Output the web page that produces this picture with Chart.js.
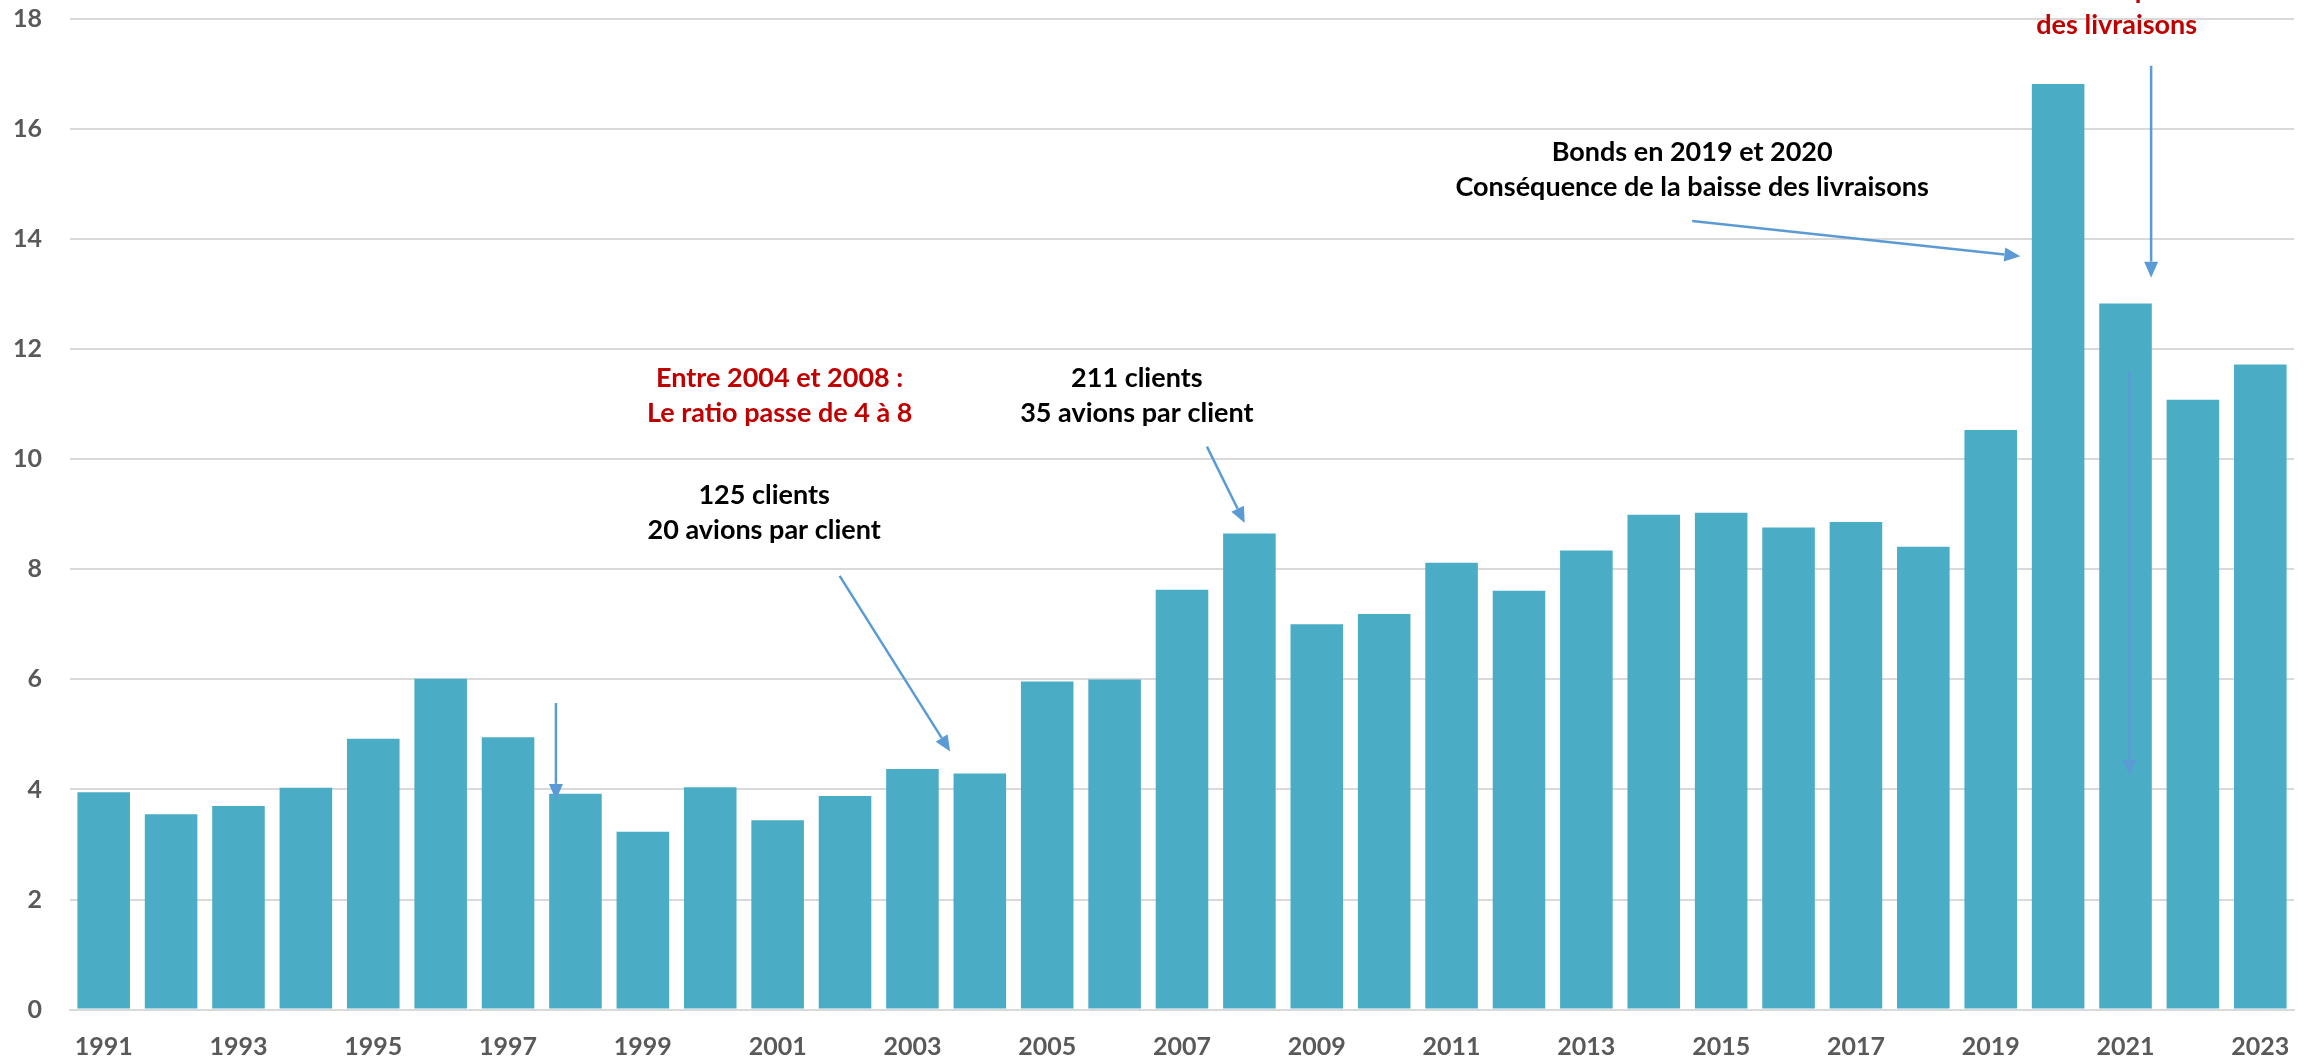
<!DOCTYPE html>
<html>
<head>
<meta charset="utf-8">
<script src="https://cdn.jsdelivr.net/npm/chart.js@4/dist/chart.umd.min.js"></script>
<style>
  html, body { margin: 0; padding: 0; background: #ffffff; }
  #wrap { width: 2318px; height: 1062px; }
</style>
</head>
<body>
<div id="wrap"><canvas id="c" width="2318" height="1062"></canvas></div>
<script>
// ---- Data ----
const years = ['1991','1992','1993','1994','1995','1996','1997','1998','1999','2000',
  '2001','2002','2003','2004','2005','2006','2007','2008','2009','2010',
  '2011','2012','2013','2014','2015','2016','2017','2018','2019','2020',
  '2021','2022','2023'];
const ratios = [3.95, 3.55, 3.70, 4.03, 4.92, 6.01, 4.95, 3.92, 3.23, 4.04,
  3.44, 3.88, 4.37, 4.29, 5.96, 6.00, 7.63, 8.65, 7.00, 7.19,
  8.12, 7.61, 8.34, 8.99, 9.03, 8.76, 8.86, 8.41, 10.53, 16.82,
  12.83, 11.08, 11.72];
const yTicks = [0, 2, 4, 6, 8, 10, 12, 14, 16, 18];

// Annotation texts (lines), anchored in data space: [category index, value]
const noteTexts = [
  { lines: ['Entre 2004 et 2008 :', 'Le ratio passe de 4 à 8'], at: [10.03, 11.48], red: true },
  { lines: ['211 clients', '35 avions par client'], at: [15.33, 11.48], red: false },
  { lines: ['125 clients', '20 avions par client'], at: [9.8, 9.34], red: false },
  { lines: ['Bonds en 2019 et 2020', 'Conséquence de la baisse des livraisons'], at: [23.57, 15.57], red: false },
  { lines: ['Forte reprise', 'des livraisons'], at: [29.87, 18.53], red: true }
];
// Arrows in data space: [fromIndex, fromValue, toIndex, toValue]
const arrows = [
  [6.71, 5.57, 6.71, 3.81],
  [10.92, 7.88, 12.56, 4.69],
  [16.37, 10.23, 16.93, 8.84],
  [23.57, 14.33, 28.44, 13.69],
  [30.38, 17.15, 30.38, 13.30],
  [30.06, 11.60, 30.06, 4.25]
];

const annPlugin = {
  id: 'ann',
  afterDatasetsDraw(chart) {
    const ctx = chart.ctx;
    const xs = chart.scales.x, ys = chart.scales.y;
    const x0 = xs.getPixelForValue(0), dx = xs.getPixelForValue(1) - x0;
    const px = i => x0 + i * dx;
    const py = v => ys.getPixelForValue(v);
    const lineStep = ys.getPixelForValue(0) - ys.getPixelForValue(0.636);
    ctx.save();
    // arrows
    ctx.strokeStyle = '#5B9BD5';
    ctx.fillStyle = '#5B9BD5';
    ctx.lineWidth = 2.5;
    arrows.forEach(a => {
      const x1 = px(a[0]), y1 = py(a[1]), x2 = px(a[2]), y2 = py(a[3]);
      const ang = Math.atan2(y2 - y1, x2 - x1);
      const hl = 16, hw = 7;
      const bx = x2 - hl * Math.cos(ang), by = y2 - hl * Math.sin(ang);
      ctx.beginPath();
      ctx.moveTo(x1, y1);
      ctx.lineTo(bx, by);
      ctx.stroke();
      ctx.beginPath();
      ctx.moveTo(x2, y2);
      ctx.lineTo(bx + hw * Math.sin(ang), by - hw * Math.cos(ang));
      ctx.lineTo(bx - hw * Math.sin(ang), by + hw * Math.cos(ang));
      ctx.closePath();
      ctx.fill();
    });
    // texts
    ctx.font = 'bold 27px Lato';
    ctx.textAlign = 'center';
    ctx.textBaseline = 'middle';
    noteTexts.forEach(n => {
      ctx.fillStyle = n.red ? '#C00000' : '#000000';
      const cx = px(n.at[0]), cy = py(n.at[1]);
      n.lines.forEach((l, k) => ctx.fillText(l, cx, cy + k * lineStep));
    });
    ctx.restore();
  }
};

new Chart(document.getElementById('c'), {
  type: 'bar',
  data: {
    labels: years,
    datasets: [{
      data: ratios,
      backgroundColor: '#4BACC6',
      borderWidth: 0,
      categoryPercentage: 1.0,
      barPercentage: 0.78
    }]
  },
  options: {
    responsive: false,
    animation: false,
    devicePixelRatio: 1,
    layout: { padding: { top: 19, right: 24, left: 0, bottom: 0 } },
    plugins: { legend: { display: false }, tooltip: { enabled: false } },
    scales: {
      x: {
        grid: { display: false, drawTicks: false },
        border: { display: true, color: '#d9d9d9', width: 2 },
        ticks: {
          autoSkip: false, maxRotation: 0, minRotation: 0, padding: 22,
          color: '#595959', font: { family: 'Lato', weight: 'bold', size: 25 },
          callback: (v, i) => (i % 2 === 0 ? years[i] : '')
        },
        afterFit: s => { s.height = 52.4; s.paddingLeft = 0; s.paddingRight = 0; }
      },
      y: {
        min: 0, max: 18,
        afterBuildTicks: s => { s.ticks = yTicks.map(v => ({ value: v })); },
        grid: { color: '#d9d9d9', lineWidth: 2, drawTicks: false },
        border: { display: false },
        ticks: {
          padding: 28,
          color: '#595959', font: { family: 'Lato', weight: 'bold', size: 25 }
        },
        afterFit: s => { s.width = 70; s.paddingTop = 0; s.paddingBottom = 0; }
      }
    }
  },
  plugins: [annPlugin]
});
</script>
</body>
</html>
